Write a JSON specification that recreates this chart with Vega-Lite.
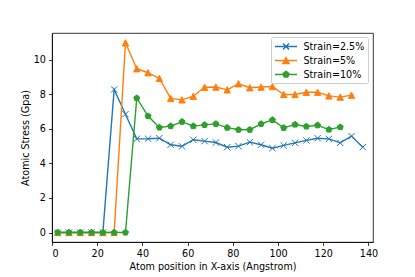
{
  "$schema": "https://vega.github.io/schema/vega-lite/v6.json",
  "width": 321,
  "height": 209,
  "autosize": {"type": "none"},
  "padding": {"left": 52, "top": 33, "right": 42, "bottom": 35},
  "background": "white",
  "config": {
    "view": {"stroke": "black", "strokeWidth": 0.8},
    "font": "DejaVu Sans",
    "axis": {
      "domainColor": "black", "domainWidth": 0.8,
      "tickColor": "black", "tickWidth": 0.8, "tickSize": 3.4,
      "labelFont": "DejaVu Sans", "labelFontSize": 9.6, "labelColor": "black", "labelPadding": 3.2,
      "titleFont": "DejaVu Sans", "titleFontSize": 9.6, "titleFontWeight": "normal", "titleColor": "black",
      "grid": false
    },
    "legend": {
      "labelFont": "DejaVu Sans", "labelFontSize": 9.6, "labelColor": "black",
      "orient": "none", "legendX": 219, "legendY": 4,
      "padding": 3, "fillColor": "rgba(255,255,255,0.8)", "strokeColor": "#cccccc", "cornerRadius": 2,
      "rowPadding": 1, "symbolSize": 121, "symbolOffset": 0, "labelOffset": 16.5, "symbolStrokeWidth": 1.4,
      "title": null
    }
  },
  "data": {"values": [
    {"series": "Strain=2.5%", "x": 2.5, "y": 0},
    {"series": "Strain=2.5%", "x": 7.5, "y": 0},
    {"series": "Strain=2.5%", "x": 12.5, "y": 0},
    {"series": "Strain=2.5%", "x": 17.5, "y": 0},
    {"series": "Strain=2.5%", "x": 22.5, "y": 0},
    {"series": "Strain=2.5%", "x": 27.5, "y": 8.28},
    {"series": "Strain=2.5%", "x": 32.5, "y": 6.85},
    {"series": "Strain=2.5%", "x": 37.5, "y": 5.42},
    {"series": "Strain=2.5%", "x": 42.5, "y": 5.43},
    {"series": "Strain=2.5%", "x": 47.5, "y": 5.46},
    {"series": "Strain=2.5%", "x": 52.5, "y": 5.08},
    {"series": "Strain=2.5%", "x": 57.5, "y": 4.99},
    {"series": "Strain=2.5%", "x": 62.5, "y": 5.37},
    {"series": "Strain=2.5%", "x": 67.5, "y": 5.29},
    {"series": "Strain=2.5%", "x": 72.5, "y": 5.21},
    {"series": "Strain=2.5%", "x": 77.5, "y": 4.94},
    {"series": "Strain=2.5%", "x": 82.5, "y": 5.0},
    {"series": "Strain=2.5%", "x": 87.5, "y": 5.23},
    {"series": "Strain=2.5%", "x": 92.5, "y": 5.08},
    {"series": "Strain=2.5%", "x": 97.5, "y": 4.88},
    {"series": "Strain=2.5%", "x": 102.5, "y": 5.04},
    {"series": "Strain=2.5%", "x": 107.5, "y": 5.19},
    {"series": "Strain=2.5%", "x": 112.5, "y": 5.33},
    {"series": "Strain=2.5%", "x": 117.5, "y": 5.46},
    {"series": "Strain=2.5%", "x": 122.5, "y": 5.42},
    {"series": "Strain=2.5%", "x": 127.5, "y": 5.19},
    {"series": "Strain=2.5%", "x": 132.5, "y": 5.58},
    {"series": "Strain=2.5%", "x": 137.5, "y": 4.94},
    {"series": "Strain=5%", "x": 2.5, "y": 0},
    {"series": "Strain=5%", "x": 7.5, "y": 0},
    {"series": "Strain=5%", "x": 12.5, "y": 0},
    {"series": "Strain=5%", "x": 17.5, "y": 0},
    {"series": "Strain=5%", "x": 22.5, "y": 0},
    {"series": "Strain=5%", "x": 27.5, "y": 0},
    {"series": "Strain=5%", "x": 32.5, "y": 10.98},
    {"series": "Strain=5%", "x": 37.5, "y": 9.48},
    {"series": "Strain=5%", "x": 42.5, "y": 9.25},
    {"series": "Strain=5%", "x": 47.5, "y": 8.92},
    {"series": "Strain=5%", "x": 52.5, "y": 7.76},
    {"series": "Strain=5%", "x": 57.5, "y": 7.68},
    {"series": "Strain=5%", "x": 62.5, "y": 7.89},
    {"series": "Strain=5%", "x": 67.5, "y": 8.41},
    {"series": "Strain=5%", "x": 72.5, "y": 8.42},
    {"series": "Strain=5%", "x": 77.5, "y": 8.26},
    {"series": "Strain=5%", "x": 82.5, "y": 8.61},
    {"series": "Strain=5%", "x": 87.5, "y": 8.38},
    {"series": "Strain=5%", "x": 92.5, "y": 8.42},
    {"series": "Strain=5%", "x": 97.5, "y": 8.45},
    {"series": "Strain=5%", "x": 102.5, "y": 7.99},
    {"series": "Strain=5%", "x": 107.5, "y": 7.99},
    {"series": "Strain=5%", "x": 112.5, "y": 8.12},
    {"series": "Strain=5%", "x": 117.5, "y": 8.12},
    {"series": "Strain=5%", "x": 122.5, "y": 7.91},
    {"series": "Strain=5%", "x": 127.5, "y": 7.84},
    {"series": "Strain=5%", "x": 132.5, "y": 7.95},
    {"series": "Strain=10%", "x": 2.5, "y": 0},
    {"series": "Strain=10%", "x": 7.5, "y": 0},
    {"series": "Strain=10%", "x": 12.5, "y": 0},
    {"series": "Strain=10%", "x": 17.5, "y": 0},
    {"series": "Strain=10%", "x": 22.5, "y": 0},
    {"series": "Strain=10%", "x": 27.5, "y": 0},
    {"series": "Strain=10%", "x": 32.5, "y": 0},
    {"series": "Strain=10%", "x": 37.5, "y": 7.78},
    {"series": "Strain=10%", "x": 42.5, "y": 6.74},
    {"series": "Strain=10%", "x": 47.5, "y": 6.08},
    {"series": "Strain=10%", "x": 52.5, "y": 6.16},
    {"series": "Strain=10%", "x": 57.5, "y": 6.41},
    {"series": "Strain=10%", "x": 62.5, "y": 6.16},
    {"series": "Strain=10%", "x": 67.5, "y": 6.23},
    {"series": "Strain=10%", "x": 72.5, "y": 6.29},
    {"series": "Strain=10%", "x": 77.5, "y": 6.07},
    {"series": "Strain=10%", "x": 82.5, "y": 5.95},
    {"series": "Strain=10%", "x": 87.5, "y": 5.95},
    {"series": "Strain=10%", "x": 92.5, "y": 6.29},
    {"series": "Strain=10%", "x": 97.5, "y": 6.52},
    {"series": "Strain=10%", "x": 102.5, "y": 6.06},
    {"series": "Strain=10%", "x": 107.5, "y": 6.25},
    {"series": "Strain=10%", "x": 112.5, "y": 6.14},
    {"series": "Strain=10%", "x": 117.5, "y": 6.21},
    {"series": "Strain=10%", "x": 122.5, "y": 5.96},
    {"series": "Strain=10%", "x": 127.5, "y": 6.1}
  ]},
  "encoding": {
    "x": {
      "field": "x", "type": "quantitative",
      "scale": {"domain": [0, 142], "nice": false, "zero": false},
      "axis": {"values": [0, 20, 40, 60, 80, 100, 120, 140], "title": "Atom position in X-axis (Angstrom)", "titlePadding": 3}
    },
    "y": {
      "field": "y", "type": "quantitative",
      "scale": {"domain": [-0.55, 11.55], "nice": false, "zero": false},
      "axis": {"values": [0, 2, 4, 6, 8, 10], "title": "Atomic Stress (Gpa)", "titlePadding": 3}
    },
    "color": {
      "field": "series", "type": "nominal",
      "scale": {"domain": ["Strain=2.5%", "Strain=5%", "Strain=10%"], "range": ["#1f77b4", "#ff7f0e", "#2ca02c"]}
    },
    "stroke": {
      "field": "series", "type": "nominal",
      "scale": {"domain": ["Strain=2.5%", "Strain=5%", "Strain=10%"], "range": ["#1f77b4", "#ff7f0e", "#2ca02c"]}
    }
  },
  "layer": [
    {
      "transform": [{"filter": "datum.series === 'Strain=2.5%'"}],
      "mark": {"type": "line", "strokeWidth": 1.4}
    },
    {
      "transform": [{"filter": "datum.series === 'Strain=2.5%'"}],
      "mark": {"type": "point", "filled": true, "size": 40, "opacity": 1, "strokeWidth": 1, "shape": "M-1,-1L1,1M-1,1L1,-1"}
    },
    {
      "transform": [{"filter": "datum.series === 'Strain=5%'"}],
      "mark": {"type": "line", "strokeWidth": 1.4}
    },
    {
      "transform": [{"filter": "datum.series === 'Strain=5%'"}],
      "mark": {"type": "point", "filled": true, "size": 40, "opacity": 1, "strokeWidth": 1, "shape": "M0,-1L1,1L-1,1Z"}
    },
    {
      "transform": [{"filter": "datum.series === 'Strain=10%'"}],
      "mark": {"type": "line", "strokeWidth": 1.4}
    },
    {
      "transform": [{"filter": "datum.series === 'Strain=10%'"}],
      "mark": {"type": "point", "filled": true, "size": 40, "opacity": 1, "strokeWidth": 1, "shape": "M0,-1L0.951,-0.309L0.588,0.809L-0.588,0.809L-0.951,-0.309Z"}
    },
    {
      "transform": [{"filter": "false"}],
      "mark": {"type": "point", "filled": true, "size": 121, "opacity": 1, "strokeWidth": 1.4},
      "encoding": {
        "shape": {
          "field": "series", "type": "nominal",
          "scale": {"domain": ["Strain=2.5%", "Strain=5%", "Strain=10%"], "range": [
            "M-1,0H3M0.45,-0.55L1.55,0.55M0.45,0.55L1.55,-0.55",
            "M-1,0H3M1,-0.55L1.55,0.55L0.45,0.55Z",
            "M-1,0H3M1,-0.56L1.533,-0.173L1.329,0.453L0.671,0.453L0.467,-0.173Z"
          ]}
        }
      }
    }
  ]
}
